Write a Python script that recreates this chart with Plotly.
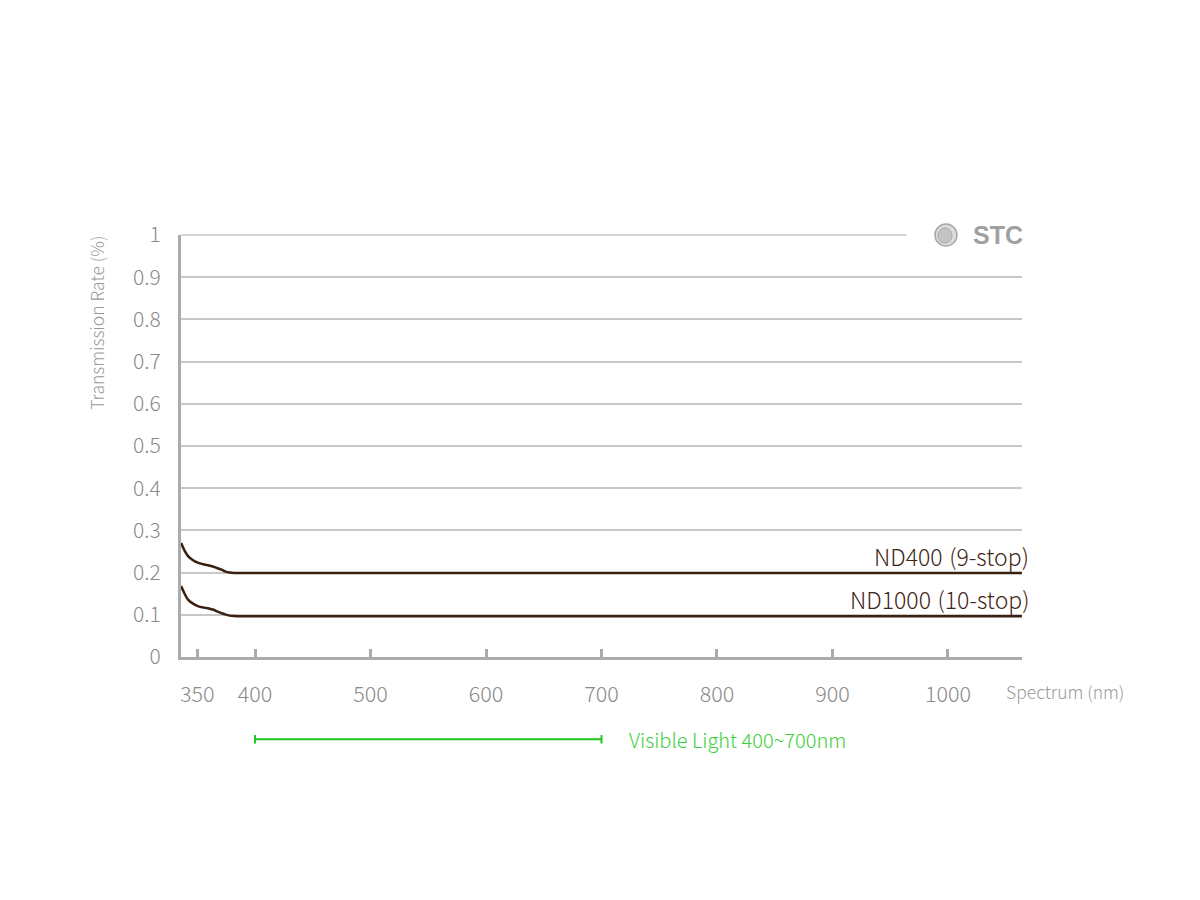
import plotly.graph_objects as go

# ---- data ----
wavelength_nm = [336, 339, 342, 346, 351, 356, 360, 364, 367, 371, 374, 378, 382, 388,
                 400, 500, 600, 700, 800, 900, 1000, 1064]
nd400 = [0.270, 0.252, 0.239, 0.230, 0.223, 0.219, 0.217, 0.214, 0.211, 0.207, 0.203, 0.200, 0.199, 0.199,
         0.199, 0.199, 0.199, 0.199, 0.199, 0.199, 0.199, 0.199]
nd1000 = [0.168, 0.150, 0.136, 0.127, 0.120, 0.117, 0.115, 0.112, 0.108, 0.104, 0.101, 0.098, 0.097, 0.0965,
          0.0965, 0.0965, 0.0965, 0.0965, 0.0965, 0.0965, 0.0965, 0.0965]
series_names = ["ND400 \u200a(9-stop)", "ND1000 \u200a(10-stop)"]
x_ticks = [350, 400, 500, 600, 700, 800, 900, 1000]
visible_range = [400, 700]

FONT = "Noto Sans CJK TC, Noto Sans, sans-serif"
LINE_COLOR = "#3b2010"
LABEL_COLOR = "#3f2514"
AXIS_GRAY = "#ababab"
TEXT_GRAY = "#8a8a8a"
GREEN = "#22c622"

fig = go.Figure()
for name, ys in zip(series_names, [nd400, nd1000]):
    fig.add_trace(go.Scatter(x=wavelength_nm, y=ys, mode="lines", name=name,
                             line=dict(color=LINE_COLOR, width=2.5, shape="spline", smoothing=0.6),
                             showlegend=False, hoverinfo="skip"))
    fig.add_annotation(x=wavelength_nm[-1], y=ys[-1], xref="x", yref="y", text=name,
                       showarrow=False, xanchor="right", yanchor="middle", xshift=9, yshift=17,
                       font=dict(family=FONT, size=23, color=LABEL_COLOR, weight=300))

fig.update_layout(
    width=1200, height=900,
    margin=dict(l=181, r=178, t=235, b=243),
    paper_bgcolor="white", plot_bgcolor="white",
    font=dict(family=FONT, color=TEXT_GRAY),
    xaxis=dict(range=[335.9, 1064.1], tickmode="array", tickvals=x_ticks,
               ticktext=[str(v) for v in x_ticks],
               showgrid=False, zeroline=False, showline=True, linewidth=3, linecolor=AXIS_GRAY,
               ticks="inside", ticklen=8, tickwidth=2.5, tickcolor=AXIS_GRAY,
               ticklabelstandoff=16,
               tickfont=dict(family=FONT, size=21.5, color=TEXT_GRAY, weight=300)),
    yaxis=dict(range=[0, 1], dtick=0.1, tick0=0, showgrid=True, gridcolor="#c8c8c8", gridwidth=1.5,
               zeroline=False, showline=True, linewidth=3, linecolor=AXIS_GRAY, ticks="",
               ticklabelstandoff=13,
               tickfont=dict(family=FONT, size=21, color=TEXT_GRAY, weight=300)),
)

shapes = [
    # top gridline (stops before the logo)
    dict(type="line", xref="paper", yref="paper", x0=0, x1=0.863, y0=1.0, y1=1.0,
         line=dict(color="#c8c8c8", width=1.5), layer="above"),
    # logo sphere
    dict(type="circle", xref="paper", yref="paper", xsizemode="pixel", ysizemode="pixel",
         xanchor=0.9096, yanchor=1.0, x0=-11, x1=11, y0=-11, y1=11,
         fillcolor="#dcdcdc", line=dict(color="#a8a8a8", width=1.5), layer="above"),
    dict(type="circle", xref="paper", yref="paper", xsizemode="pixel", ysizemode="pixel",
         xanchor=0.9096, yanchor=1.0, x0=-8, x1=6, y0=-8, y1=7,
         fillcolor="#c4c4c4", line=dict(color="#a8a8a8", width=1), layer="above"),
    # visible light range
    dict(type="line", xref="x", yref="paper", x0=visible_range[0], x1=visible_range[1],
         y0=-0.195, y1=-0.195, line=dict(color=GREEN, width=2)),
    dict(type="line", xref="x", yref="paper", x0=visible_range[0], x1=visible_range[0],
         y0=-0.185, y1=-0.205, line=dict(color=GREEN, width=2)),
    dict(type="line", xref="x", yref="paper", x0=visible_range[1], x1=visible_range[1],
         y0=-0.185, y1=-0.205, line=dict(color=GREEN, width=2)),
]
fig.update_layout(shapes=shapes)

fig.add_annotation(x=visible_range[1], y=-0.195, xref="x", yref="paper",
                   text=f"Visible Light {visible_range[0]}~{visible_range[1]}nm",
                   showarrow=False, xanchor="left", yanchor="middle", xshift=25,
                   font=dict(family=FONT, size=20, color="#3ccf3c", weight=300))
fig.add_annotation(x=1.0, y=1.0, xref="paper", yref="paper", text="<b>STC</b>",
                   showarrow=False, xanchor="right", yanchor="middle", xshift=3,
                   font=dict(family="Liberation Sans, Arial, sans-serif", size=25, color="#a0a0a0"))
fig.add_annotation(x=0.979, y=-0.0817, xref="paper", yref="paper", text="Spectrum (nm)",
                   showarrow=False, xanchor="left", yanchor="middle",
                   font=dict(family=FONT, size=17.5, color="#9a9a9a", weight=300))
fig.add_annotation(x=-0.0999, y=0.792, xref="paper", yref="paper", text="Transmission Rate (%)",
                   textangle=-90, showarrow=False, xanchor="center", yanchor="middle",
                   font=dict(family=FONT, size=17.5, color="#9a9a9a", weight=300))

fig.write_html("out.html", config={"displayModeBar": False},
               post_script="document.body.style.margin='0';")
